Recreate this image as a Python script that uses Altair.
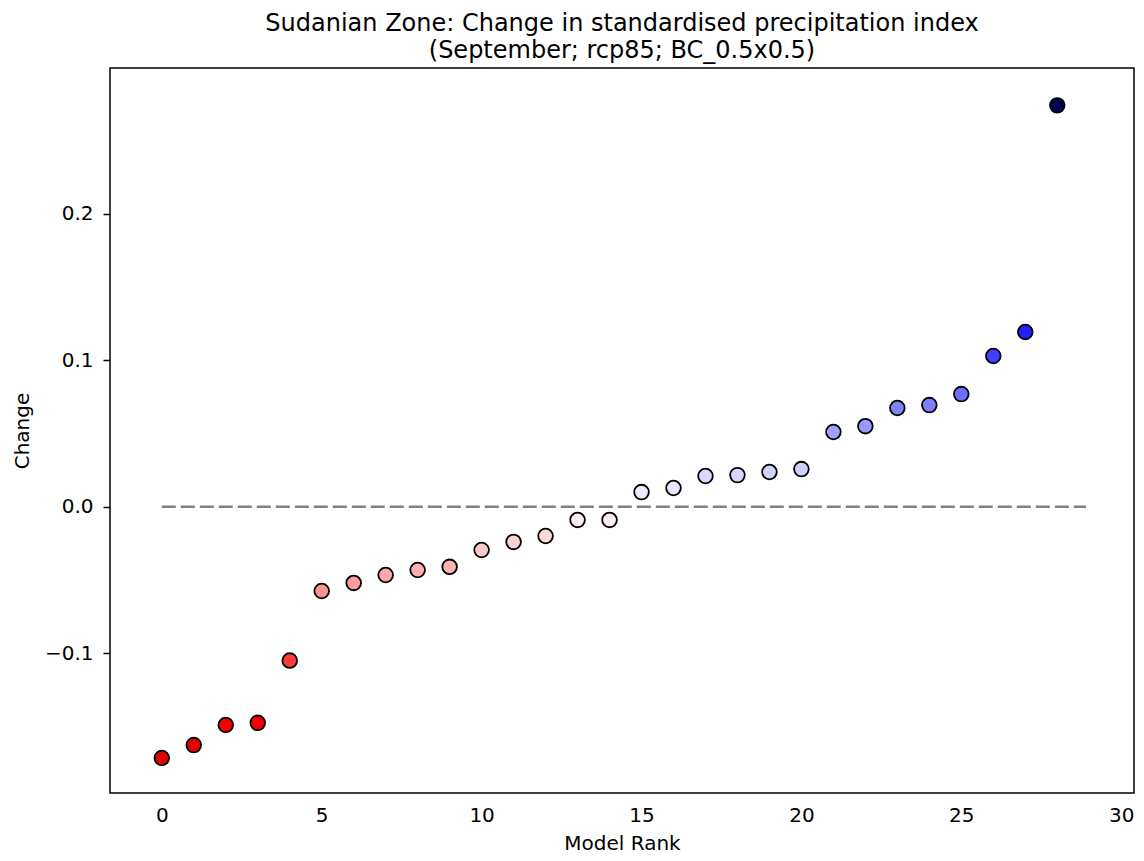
import altair as alt
import pandas as pd

ranks = list(range(29))
changes = [-0.1715, -0.1627, -0.149, -0.1475, -0.105, -0.0575, -0.052, -0.0466,
           -0.0432, -0.041, -0.0295, -0.024, -0.020, -0.009, -0.009, 0.0100,
           0.0128, 0.021, 0.0216, 0.0237, 0.0257, 0.051, 0.055, 0.0674,
           0.0694, 0.0769, 0.1029, 0.1193, 0.274]
x_ticks = [0, 5, 10, 15, 20, 25, 30]
y_ticks = [-0.1, 0.0, 0.1, 0.2]
title_lines = ["Sudanian Zone: Change in standardised precipitation index",
               "(September; rcp85; BC_0.5x0.5)"]

vmax = max(abs(v) for v in changes)
df = pd.DataFrame({"rank": ranks, "change": changes})
zero = pd.DataFrame({"x0": [0], "x1": [28.9], "y": [0.0]})

font = "DejaVu Sans"
xscale = alt.Scale(domain=[-1.62, 30.4], nice=False, zero=False)
yscale = alt.Scale(domain=[-0.1954, 0.2995], nice=False, zero=False)

rule = alt.Chart(zero).mark_rule(
    color="#808080", strokeWidth=2.5, strokeDash=[14, 5]
).encode(
    x=alt.X("x0:Q", scale=xscale),
    x2="x1:Q",
    y=alt.Y("y:Q", scale=yscale),
)

points = alt.Chart(df).mark_point(
    filled=True, shape="circle", size=215, stroke="black", strokeWidth=1.8, opacity=1
).encode(
    x=alt.X("rank:Q", scale=xscale, title="Model Rank",
            axis=alt.Axis(values=x_ticks, grid=False, tickSize=0, labelPadding=12,
                          labelFontSize=20, titleFontSize=20, labelFont=font, titleFont=font,
                          labelColor="black", titleColor="black", titleFontWeight="normal",
                          domain=False, titlePadding=8, labelFlush=False)),
    y=alt.Y("change:Q", scale=yscale, title="Change",
            axis=alt.Axis(values=y_ticks, format=".1f", grid=False, tickSize=7,
                          tickColor="black", tickWidth=1.5, labelPadding=10,
                          labelFontSize=20, titleFontSize=20, labelFont=font, titleFont=font,
                          labelColor="black", titleColor="black", titleFontWeight="normal",
                          domain=False, titlePadding=12, labelFlush=False)),
    fill=alt.Fill("change:Q", legend=None,
                  scale=alt.Scale(domain=[-vmax, -vmax / 2, 0, vmax / 2, vmax],
                                  range=["#800000", "#ff0000", "#ffffff", "#0000ff", "#00004c"],
                                  interpolate="rgb")),
)

chart = alt.layer(rule, points).properties(
    width=1024, height=725,
    title=alt.TitleParams(text=title_lines, font=font, fontSize=24, fontWeight="normal",
                          color="black", anchor="middle", offset=5, lineHeight=27),
    autosize=alt.AutoSizeParams(type="none"),
    padding={"left": 102, "top": 60, "right": 2, "bottom": 60},
).configure_view(stroke="black", strokeWidth=1.5)

chart.save("out.html", embed_options={"renderer": "svg", "actions": False})
